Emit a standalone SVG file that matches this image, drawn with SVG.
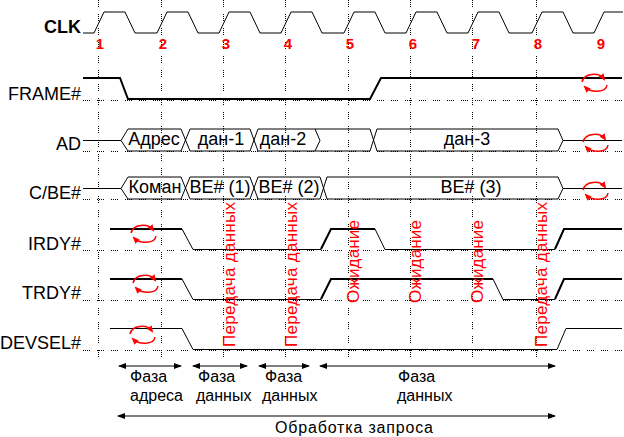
<svg xmlns="http://www.w3.org/2000/svg" xmlns:xlink="http://www.w3.org/1999/xlink" width="624" height="437" viewBox="0 0 624 437">
<style>
text{font-family:"Liberation Sans",Arial,sans-serif;fill:#000}
.lbl{font-size:18px;text-anchor:end}
.num{font-size:15px;font-weight:bold;fill:#f00;text-anchor:middle}
.bus{font-size:18px;text-anchor:middle}
.ph{font-size:16px}
.rot{font-size:17px;fill:#f00}
.grid{stroke:#000;stroke-width:1;stroke-dasharray:1 1 1 1 1 1 1 7;fill:none}
.sig{stroke:#000;stroke-width:1;fill:none}
.thick{stroke:#000;stroke-width:2;fill:none}
.arr{stroke:#000;stroke-width:1.2;fill:none;marker-start:url(#ah);marker-end:url(#ah)}
.cyc{stroke:#f00;stroke-width:1.5;fill:none;marker-end:url(#rh)}
</style>
<defs>
<marker id="ah" markerUnits="userSpaceOnUse" markerWidth="9" markerHeight="7" refX="7" refY="3" orient="auto-start-reverse"><path d="M0,0 L8,3 L0,6 z" fill="#000"/></marker>
<marker id="rh" markerUnits="userSpaceOnUse" markerWidth="8" markerHeight="8" refX="5" refY="3" orient="auto"><path d="M0,0 L7,3 L0,6 z" fill="#f00"/></marker>
<g id="cycle"><path class="cyc" d="M-12,0 C-10,-9 5,-10 10,-3"/><path class="cyc" d="M13,3 C12,11 -3,11 -9,5"/></g>
</defs>
<rect width="624" height="437" fill="#fff"/>
<g id="grid">
<path class="grid" d="M98.5,0V362M161.5,0V362M223.5,0V362M285.5,0V362M348.5,0V362M410.5,0V362M472.5,0V362M536.5,0V362"/>
<path class="grid" d="M83,100.5H622M83,151.5H622M83,199.5H622M83,250.5H622M83,300.5H622M83,350.5H622"/>
</g>
<g id="clk">
<text x="81" y="33" class="lbl" font-weight="bold">CLK</text>
<path class="sig" stroke-width="1.3" d="M83,33 L94,33 L104,12 L125,12 L135,33 L157,33 L167,12 L188,12 L198,33 L219,33 L229,12 L250,12 L260,33 L281,33 L291,12 L312,12 L322,33 L344,33 L354,12 L375,12 L385,33 L406,33 L416,12 L437,12 L447,33 L468,33 L478,12 L499,12 L509,33 L532,33 L542,12 L563,12 L573,33 L594,33 L604,12 L623,12"/>
<text x="100" y="49" class="num">1</text><text x="163" y="49" class="num">2</text><text x="226" y="49" class="num">3</text><text x="288" y="49" class="num">4</text><text x="350" y="49" class="num">5</text><text x="413" y="49" class="num">6</text><text x="476" y="49" class="num">7</text><text x="538" y="49" class="num">8</text><text x="601" y="49" class="num">9</text>
</g>
<g id="frame">
<text x="81" y="100" class="lbl">FRAME#</text>
<path class="thick" d="M83,78 H120 L128,99 H370 L381,78 H622"/>
<use xlink:href="#cycle" x="594" y="82"/>
</g>
<g id="ad">
<text x="81" y="150" class="lbl">AD</text>
<path class="sig" stroke-width="1.3" d="M83,140.5 H121 L128,129 H181 L190,151 H250 L258,129 H370 L377,151 H558 L563,140.5 H622 M121,140.5 L128,151 H181 L190,129 H250 L258,151 H370 L377,129 H558 L563,140.5 M315,129 L320,140.5 L315,151"/>
<text x="154" y="145" class="bus">Адрес</text>
<text x="221" y="145" class="bus">дан-1</text>
<text x="283" y="145" class="bus">дан-2</text>
<text x="467" y="145" class="bus">дан-3</text>
<use xlink:href="#cycle" x="595" y="142"/>
</g>
<g id="cbe">
<text x="81" y="199" class="lbl">C/BE#</text>
<path class="sig" stroke-width="1.3" d="M83,188.5 H121 L128,177 H181 L190,199 H250 L258,177 H320 L327,199 H558 L563,188.5 H622 M121,188.5 L128,199 H181 L190,177 H250 L258,199 H320 L327,177 H558 L563,188.5"/>
<text x="155" y="193" class="bus">Коман</text>
<text x="220" y="193" class="bus">BE# (1)</text>
<text x="289" y="193" class="bus">BE# (2)</text>
<text x="471" y="193" class="bus">BE# (3)</text>
<use xlink:href="#cycle" x="595" y="190"/>
</g>
<g id="irdy">
<text x="81" y="250" class="lbl">IRDY#</text>
<path class="sig" d="M110,229 H182 L193,249.5 H321 L331,229 H375 L385,249.5 H555 L564,229 H622"/>
<path class="thick" d="M110,229 H182 M321,249 L331,229 H375 M555,249 L564,229 H622"/>
<use xlink:href="#cycle" x="143" y="233"/>
</g>
<g id="trdy">
<text x="81" y="299" class="lbl">TRDY#</text>
<path class="sig" d="M110,279 H182 L193,299.5 H321 L331,279 H493 L503,299.5 H555 L564,279 H622"/>
<path class="thick" d="M110,279 H182 M321,299 L331,279 H493 M555,299 L564,279 H622"/>
<use xlink:href="#cycle" x="145" y="283"/>
</g>
<g id="devsel">
<text x="81" y="349" class="lbl">DEVSEL#</text>
<path class="sig" d="M110,328.5 H182 L193,349.5 H557 L566,328.5 H622"/>
<use xlink:href="#cycle" x="142" y="334"/>
</g>
<g id="notes">
<text class="rot" x="235" y="347" transform="rotate(-90 235 347)" textLength="145" lengthAdjust="spacing">Передача данных</text>
<text class="rot" x="297" y="347" transform="rotate(-90 297 347)" textLength="145" lengthAdjust="spacing">Передача данных</text>
<text class="rot" x="359" y="303" transform="rotate(-90 359 303)" textLength="83" lengthAdjust="spacing">Ожидание</text>
<text class="rot" x="421" y="303" transform="rotate(-90 421 303)" textLength="83" lengthAdjust="spacing">Ожидание</text>
<text class="rot" x="483" y="303" transform="rotate(-90 483 303)" textLength="83" lengthAdjust="spacing">Ожидание</text>
<text class="rot" x="547" y="347" transform="rotate(-90 547 347)" textLength="145" lengthAdjust="spacing">Передача данных</text>
</g>
<g id="connectors">
<path class="arr" d="M119,366 H181"/>
<path class="arr" d="M193,366 H247"/>
<path class="arr" d="M259,366 H309"/>
<path class="arr" d="M320,366 H555"/>
<path class="arr" d="M118,416 H555"/>
</g>
<g id="phases">
<text class="ph" x="130" y="382">Фаза</text><text class="ph" x="130" y="401">адреса</text>
<text class="ph" x="198" y="382">Фаза</text><text class="ph" x="196" y="401">данных</text>
<text class="ph" x="265" y="382">Фаза</text><text class="ph" x="262" y="401">данных</text>
<text class="ph" x="398" y="382">Фаза</text><text class="ph" x="397" y="401">данных</text>
<text class="ph" x="275" y="433" textLength="158" lengthAdjust="spacing">Обработка запроса</text>
</g>
</svg>
